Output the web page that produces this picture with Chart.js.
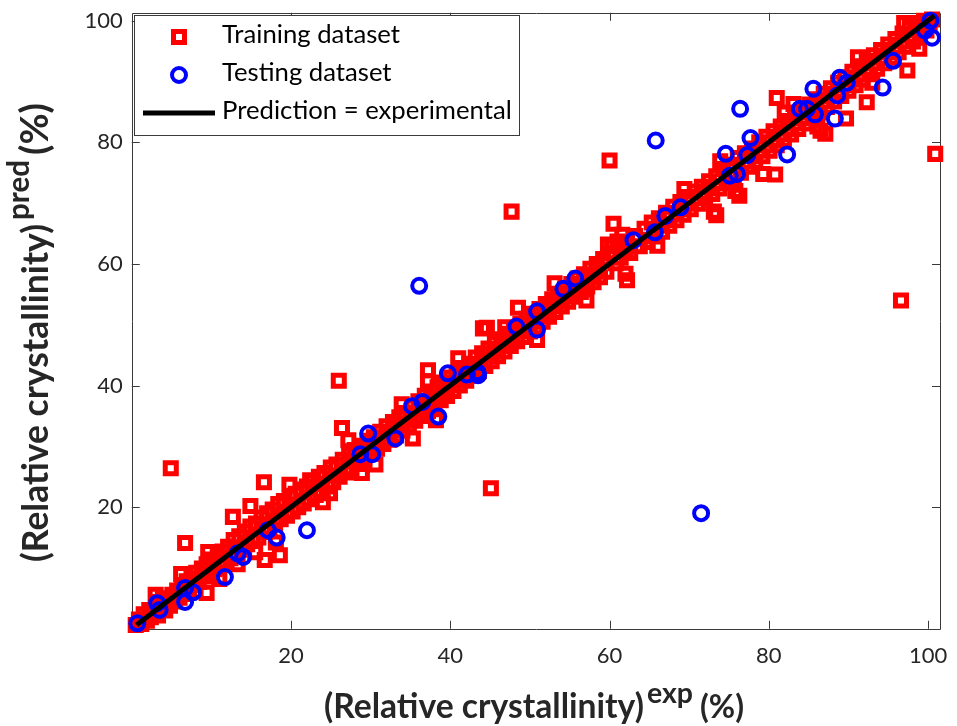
<!DOCTYPE html>
<html>
<head>
<meta charset="utf-8">
<script src="https://cdn.jsdelivr.net/npm/chart.js@4.4.1/dist/chart.umd.min.js"></script>
<style>
  html, body { margin: 0; padding: 0; background: #ffffff; }
  #wrap { width: 957px; height: 726px; }
</style>
</head>
<body>
<div id="wrap"><canvas id="c" width="957" height="726"></canvas></div>
<script>
// ---------------- DATA ----------------
const xTickValues = [20, 40, 60, 80, 100];
const yTickValues = [20, 40, 60, 80, 100];

const seriesNames = ["Training dataset", "Testing dataset", "Prediction = experimental"];

// Training dataset: [experimental, predicted]
const trainingPoints = [
  [0.5,0.6],[0.9,1.5],[1.2,0.8],[1.5,2.4],[1.9,1.3],[2.2,3.1],[2.4,1.9],[2.8,2.6],[3.1,4.4],[3.3,2.2],
  [3.6,3.5],[3.9,5.0],[4.2,3.0],[4.5,4.6],[4.8,3.8],[5.1,5.6],[5.4,4.5],[5.7,6.3],[6.0,5.1],[6.3,7.1],
  [6.6,5.7],[6.9,7.8],[7.2,6.4],[7.5,8.3],[7.8,7.2],[8.1,9.2],[8.4,7.7],[8.8,9.9],[9.1,8.6],[9.4,10.6],
  [9.8,9.0],[10.1,11.4],[10.4,9.8],[10.8,12.1],[11.1,10.5],
  [11.4,12.7],[11.7,11.0],[12.1,13.5],[12.4,11.6],[12.8,14.6],[13.1,12.3],[13.5,15.2],[13.8,13.0],[14.2,16.0],[14.5,13.9],
  [14.9,16.8],[15.2,14.5],[15.6,17.3],[15.9,15.0],[16.3,18.3],[16.6,15.9],[17.0,19.0],[17.3,16.6],[17.7,19.6],[18.0,17.4],
  [18.4,20.5],[18.7,18.0],[19.1,21.0],[19.5,18.6],[19.9,21.7],[20.2,19.3],[20.6,22.2],[20.9,20.0],
  [13.3,10.6],[15.5,12.6],[18.1,14.2],
  [21.3,22.9],[21.6,20.6],[22.0,23.4],[22.3,21.3],[22.7,24.2],[23.1,22.0],[23.5,25.0],[23.8,22.7],[24.2,25.6],[24.6,23.4],
  [25.0,26.5],[25.3,24.1],[25.7,27.0],[26.1,25.0],[26.5,27.8],[26.9,25.7],[27.3,28.6],[27.6,26.4],[28.0,29.4],[28.4,27.1],
  [28.8,30.1],[29.2,28.0],[29.6,30.9],[30.0,28.8],[30.4,31.5],
  [30.8,29.6],[31.2,32.4],[31.6,30.4],[32.0,33.3],[32.4,31.1],[32.8,34.0],[33.2,31.8],[33.6,34.8],[34.0,32.6],[34.4,35.5],
  [34.8,33.4],[35.2,36.6],[35.6,34.2],[36.0,37.4],[36.4,35.0],[36.8,38.3],[37.2,35.8],[37.6,39.0],[38.0,36.7],[38.4,39.7],
  [38.8,37.6],[39.2,40.5],[39.6,38.3],[40.0,41.3],
  [40.4,39.1],[40.8,42.1],[41.2,40.0],[41.6,42.9],[42.0,40.8],[42.4,43.6],[42.8,41.6],[43.2,44.6],[43.6,42.4],[44.0,45.3],
  [44.4,43.2],[44.8,46.1],[45.2,44.0],[45.6,47.0],[46.0,44.8],[46.4,47.6],[46.8,45.6],[47.2,48.5],[47.6,46.5],[48.0,49.2],
  [48.4,47.3],[48.8,50.1],[49.2,48.0],[49.6,51.0],[50.0,48.9],
  [50.4,51.8],[50.8,49.6],[51.2,52.6],[51.6,50.5],[52.0,53.4],[52.4,51.3],[52.8,54.2],[53.2,52.1],[53.6,55.1],[54.0,53.0],
  [54.4,55.9],[54.8,53.8],[55.2,56.7],[55.6,54.6],[56.0,57.6],[56.4,55.4],[56.8,58.3],[57.2,56.3],[57.6,59.2],[58.0,57.0],
  [58.4,60.0],[58.8,57.8],[59.2,60.8],[59.6,58.7],[60.0,61.7],
  [60.4,62.9],[61.0,63.7],[61.6,64.8],[62.2,63.5],[60.8,60.1],[61.4,61.0],[62.0,62.4],[62.6,61.8],[63.2,64.6],[63.8,62.9],
  [64.4,65.8],[64.8,63.6],[65.3,66.8],[65.7,64.5],[66.2,67.5],[66.6,65.3],[67.1,68.4],[67.5,66.3],[68.0,69.4],[68.4,67.2],
  [68.9,70.2],[69.3,68.1],[69.8,71.0],[70.2,69.0],
  [70.7,71.9],[71.1,69.9],[71.6,72.7],[72.0,70.8],[72.5,73.6],[72.9,71.5],[73.4,74.4],[73.8,72.4],[74.3,75.6],[74.7,73.3],
  [75.2,76.3],[75.6,74.2],[76.1,77.4],[76.5,75.0],[77.0,78.2],[77.4,76.0],[77.9,79.0],[78.3,76.8],[78.8,80.0],[79.2,77.7],
  [79.7,80.9],
  [80.1,78.6],[80.6,81.8],[81.0,79.5],[81.5,82.6],[81.9,80.4],[82.4,83.5],[82.8,81.3],[83.3,84.4],[83.7,82.2],[84.2,85.3],
  [84.6,83.1],[85.1,86.2],[85.5,84.0],[86.0,87.1],[86.4,84.9],[86.9,88.0],[87.3,85.8],[87.8,88.9],[88.2,86.7],[88.7,89.8],
  [89.1,87.6],[89.6,90.7],[90.0,88.5],
  [90.5,91.6],[90.9,89.4],[91.4,92.5],[91.8,90.3],[92.3,93.4],[92.7,91.2],[93.2,94.3],[93.6,92.1],[94.1,95.2],[94.5,93.0],
  [95.0,96.1],[95.4,93.9],[95.9,97.0],[96.3,94.8],[96.8,97.9],[97.2,95.7],[97.7,98.8],[98.1,96.6],[98.6,99.6],[99.0,97.5],
  [99.5,100.0],[99.8,98.4],[100.2,99.3],[100.5,100.2],
  [3.0,5.6],[6.2,9.0],[9.6,12.6],[11.0,8.2],[19.8,23.7],[24.0,20.8],[27.2,31.0],[30.6,27.0],[33.9,36.9],[38.2,34.3],
  [41.0,44.5],[46.9,49.6],[50.9,47.5],[53.1,56.8],[57.1,54.0],[59.8,63.2],[66.0,63.0],[69.4,72.3],[73.9,76.9],[75.8,72.0],
  [82.0,84.9],[86.1,82.6],[91.2,94.0],[93.0,89.8],[97.0,99.6],[98.9,95.4],
  [4.9,26.4],[6.7,14.1],[47.7,68.6],[60.0,77.0],[26.0,40.8],[45.1,23.1],[100.9,78.1],[96.6,54.0],[81.0,87.3],
  [16.6,24.1],[14.9,20.2],[12.7,18.4],[26.4,33.0],[22.4,24.4],[18.6,12.1],[16.7,11.3],[9.4,5.9],[37.2,42.5],[35.3,31.3],
  [28.9,25.6],[44.1,49.4],[24.9,22.3],[60.5,66.6],[62.0,58.4],[48.5,52.8],[44.6,49.5],[79.3,74.8],[76.3,71.2],[73.1,68.6],
  [83.1,86.3],[92.3,86.6],[97.4,91.8],[86.5,81.9],[89.7,83.9],[73.4,68.0],[80.8,74.7],[62.2,57.3],[37.2,40.7],[87.1,81.4]
];

// Testing dataset: [experimental, predicted]
const testingPoints = [
  [0.7,0.9],[3.5,3.1],[3.2,4.2],[6.7,6.7],[7.7,6.0],[6.7,4.4],[11.7,8.5],[13.3,12.4],[14.0,11.8],[17.1,16.2],
  [18.2,15.0],[22.0,16.2],[28.7,28.7],[30.2,28.7],[29.7,32.1],[33.1,31.3],[35.2,36.6],[36.5,37.3],[38.5,34.9],[39.7,42.0],
  [42.1,41.8],[43.5,41.7],[43.4,42.2],[36.1,56.4],[48.3,49.7],[50.9,52.2],[50.9,49.2],[54.2,55.9],[55.7,57.6],[63.0,63.9],
  [65.7,65.2],[67.0,67.9],[68.9,69.3],[65.8,80.3],[71.5,19.0],[76.4,85.5],[74.6,78.1],[75.1,74.5],[76.0,74.8],[77.3,77.9],
  [77.7,80.7],[82.3,78.0],[83.9,85.5],[85.6,88.8],[84.8,85.5],[85.8,84.6],[88.3,83.9],[88.9,90.6],[89.8,89.8],[88.6,87.7],
  [94.3,89.0],[95.6,93.4],[100.3,100.0],[100.5,97.2],[99.6,98.4]
];

// Reference line (prediction = experimental)
const lineX = [0.6, 100.8];
const lineY = [0.6, 100.8];

// ---------------- CHART ----------------
const FONT = 'Lato, "Open Sans", "DejaVu Sans", sans-serif';
const AXIS_COLOR = '#3a3a3a';
const TEXT_COLOR = '#262626';

const toXY = arr => arr.map(p => ({ x: p[0], y: p[1] }));

function fitFont(ctx, text, weight, target) {
  ctx.font = weight + ' 100px ' + FONT;
  const w = ctx.measureText(text).width;
  return weight + ' ' + (100 * target / w).toFixed(2) + 'px ' + FONT;
}

const framePlugin = {
  id: 'frame',
  beforeDatasetsDraw(chart) {
    const { ctx, chartArea: a, scales } = chart;
    ctx.save();
    ctx.strokeStyle = AXIS_COLOR;
    ctx.lineWidth = 1;
    ctx.beginPath();
    ctx.rect(Math.round(a.left) + 0.5, Math.round(a.top) + 0.5,
             Math.round(a.right - a.left), Math.round(a.bottom - a.top));
    ctx.stroke();
    const tl = 8;
    ctx.beginPath();
    xTickValues.forEach(v => {
      const px = Math.round(scales.x.getPixelForValue(v)) + 0.5;
      ctx.moveTo(px, a.bottom); ctx.lineTo(px, a.bottom - tl);
      ctx.moveTo(px, a.top); ctx.lineTo(px, a.top + tl);
    });
    yTickValues.forEach(v => {
      const py = Math.round(scales.y.getPixelForValue(v)) + 0.5;
      ctx.moveTo(a.left, py); ctx.lineTo(a.left + tl, py);
      ctx.moveTo(a.right, py); ctx.lineTo(a.right - tl, py);
    });
    ctx.stroke();
    ctx.restore();
  },
  afterDatasetsDraw(chart) {
    const { ctx } = chart;
    ctx.save();
    // ----- Legend -----
    ctx.fillStyle = '#ffffff';
    ctx.fillRect(134, 15, 385, 120);
    ctx.strokeStyle = AXIS_COLOR;
    ctx.lineWidth = 1;
    ctx.strokeRect(134.5, 15.5, 385, 120);

    ctx.strokeStyle = '#ff0000';
    ctx.lineWidth = 5;
    ctx.strokeRect(179 - 5.5, 37 - 5.5, 11, 11);
    ctx.strokeStyle = '#0000ff';
    ctx.lineWidth = 4;
    ctx.beginPath(); ctx.arc(179, 75, 7, 0, Math.PI * 2); ctx.stroke();
    ctx.strokeStyle = '#000000';
    ctx.lineWidth = 5;
    ctx.beginPath(); ctx.moveTo(143, 113); ctx.lineTo(215, 113); ctx.stroke();

    ctx.fillStyle = '#000000';
    ctx.textBaseline = 'alphabetic';
    ctx.textAlign = 'left';
    ctx.font = fitFont(ctx, seriesNames[0], 'normal', 178);
    ctx.fillText(seriesNames[0], 222, 43);
    ctx.fillText(seriesNames[1], 222, 81);
    ctx.fillText(seriesNames[2], 222, 119);

    // ----- X axis title -----
    ctx.fillStyle = TEXT_COLOR;
    const xMain = '(Relative crystallinity)';
    ctx.font = fitFont(ctx, xMain, 'bold', 320);
    ctx.fillText(xMain, 324, 718);
    ctx.font = fitFont(ctx, 'exp', 'bold', 46);
    ctx.fillText('exp', 647, 703);
    ctx.font = fitFont(ctx, '(%)', 'bold', 44);
    ctx.fillText('(%)', 700, 718);

    // ----- Y axis title -----
    ctx.save();
    ctx.translate(48, 562);
    ctx.rotate(-Math.PI / 2);
    ctx.font = fitFont(ctx, xMain, 'bold', 338);
    ctx.fillText(xMain, 0, 0);
    ctx.font = fitFont(ctx, 'pred', 'bold', 60);
    ctx.fillText('pred', 342, -19);
    ctx.font = fitFont(ctx, '(%)', 'bold', 52);
    ctx.fillText('(%)', 407, 0);
    ctx.restore();

    ctx.restore();
  }
};

new Chart(document.getElementById('c'), {
  type: 'scatter',
  data: {
    datasets: [
      {
        label: seriesNames[2],
        type: 'line',
        data: lineX.map((x, i) => ({ x: x, y: lineY[i] })),
        borderColor: '#000000',
        borderWidth: 5,
        pointRadius: 0,
        fill: false,
        order: 0,
        clip: false
      },
      {
        label: seriesNames[1],
        data: toXY(testingPoints),
        pointStyle: 'circle',
        pointRadius: 7,
        pointBorderWidth: 4,
        borderColor: '#0000ff',
        backgroundColor: 'rgba(0,0,0,0)',
        order: 1,
        clip: false
      },
      {
        label: seriesNames[0],
        data: toXY(trainingPoints),
        pointStyle: 'rect',
        pointRadius: 7.8,
        pointBorderWidth: 5,
        borderColor: '#ff0000',
        backgroundColor: 'rgba(0,0,0,0)',
        order: 2,
        clip: false
      }
    ]
  },
  options: {
    responsive: false,
    devicePixelRatio: 1,
    animation: false,
    events: [],
    layout: { padding: { left: 0, top: 12, right: 17, bottom: 0 } },
    plugins: { legend: { display: false }, tooltip: { enabled: false }, title: { display: false } },
    scales: {
      x: {
        type: 'linear',
        min: 0,
        max: 101.5,
        afterBuildTicks: s => { s.ticks = xTickValues.map(v => ({ value: v })); },
        afterFit: s => { s.height = 97.25; s.paddingLeft = 0; s.paddingRight = 0; },
        grid: { display: false, drawTicks: false },
        border: { display: false },
        ticks: { font: { family: FONT, size: 22 }, color: TEXT_COLOR, padding: 14, maxRotation: 0, autoSkip: false,
                 callback: v => String(v) }
      },
      y: {
        type: 'linear',
        min: 0,
        max: 101.3,
        afterBuildTicks: s => { s.ticks = yTickValues.map(v => ({ value: v })); },
        afterFit: s => { s.width = 131.75; s.paddingTop = 0; s.paddingBottom = 0; },
        grid: { display: false, drawTicks: false },
        border: { display: false },
        ticks: { font: { family: FONT, size: 22 }, color: TEXT_COLOR, padding: 9, autoSkip: false,
                 callback: v => String(v) }
      }
    }
  },
  plugins: [framePlugin]
});
</script>
</body>
</html>
